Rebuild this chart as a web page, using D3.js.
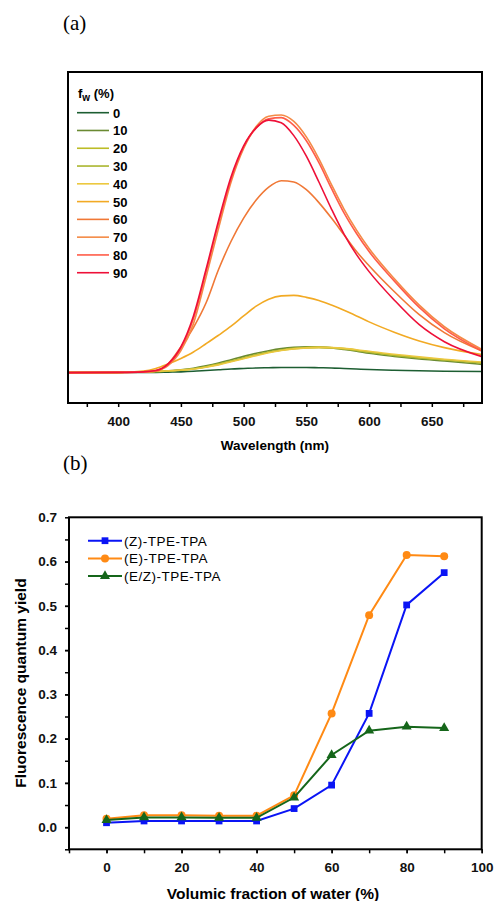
<!DOCTYPE html>
<html>
<head>
<meta charset="utf-8">
<script src="https://cdn.jsdelivr.net/npm/d3@7"></script>
<style>
  body { margin: 0; background: #fff; }
  svg { display: block; }
  text { font-family: "Liberation Sans", Arial, sans-serif; }
</style>
</head>
<body>
<script>
let width = 494;
let height = 901;

// panel (a): emission spectra, fw = water fraction
let wavelengths = [360, 400, 420, 430, 440, 450, 460, 470, 480, 490, 500, 510, 520, 530, 540, 550, 560, 570, 580, 590, 600, 620, 640, 660, 690];
let fwLabels = ['0', '10', '20', '30', '40', '50', '60', '70', '80', '90'];
let fwColors = ['#1d5e32', '#6a8a32', '#bcbc26', '#aab62e', '#ecc840', '#f2aa24', '#f07836', '#f48a46', '#ff5c48', '#ee1038'];
let spec0 = [0, 0.001, 0.001, 0.001, 0.002, 0.003, 0.005, 0.008, 0.011, 0.014, 0.016, 0.018, 0.019, 0.02, 0.02, 0.02, 0.019, 0.018, 0.016, 0.014, 0.012, 0.009, 0.007, 0.005, 0.004];
let spec10 = [0, 0.001, 0.002, 0.004, 0.007, 0.011, 0.017, 0.026, 0.037, 0.05, 0.063, 0.075, 0.085, 0.093, 0.098, 0.1, 0.099, 0.096, 0.09, 0.083, 0.075, 0.063, 0.053, 0.045, 0.032];
let spec20 = [0, 0.001, 0.002, 0.004, 0.006, 0.009, 0.014, 0.022, 0.032, 0.044, 0.056, 0.068, 0.079, 0.087, 0.093, 0.097, 0.098, 0.097, 0.093, 0.087, 0.08, 0.068, 0.058, 0.05, 0.038];
let spec30 = [0, 0.001, 0.002, 0.004, 0.006, 0.01, 0.015, 0.023, 0.033, 0.045, 0.057, 0.069, 0.08, 0.088, 0.094, 0.097, 0.098, 0.096, 0.092, 0.086, 0.079, 0.067, 0.057, 0.049, 0.037];
let spec40 = [0, 0.001, 0.003, 0.005, 0.007, 0.01, 0.014, 0.021, 0.03, 0.042, 0.054, 0.066, 0.077, 0.086, 0.092, 0.096, 0.098, 0.097, 0.094, 0.089, 0.083, 0.071, 0.061, 0.052, 0.041];
let spec50 = [0, 0.001, 0.006, 0.016, 0.034, 0.055, 0.08, 0.112, 0.145, 0.18, 0.22, 0.258, 0.285, 0.298, 0.3, 0.292, 0.28, 0.262, 0.242, 0.22, 0.197, 0.157, 0.123, 0.097, 0.07];
let spec60 = [0, 0.001, 0.002, 0.005, 0.035, 0.1, 0.175, 0.27, 0.4, 0.51, 0.6, 0.67, 0.72, 0.745, 0.74, 0.71, 0.66, 0.6, 0.535, 0.47, 0.415, 0.315, 0.225, 0.155, 0.084];
let spec70 = [0, 0.001, 0.003, 0.007, 0.028, 0.085, 0.19, 0.37, 0.56, 0.74, 0.87, 0.955, 0.995, 1.0, 0.975, 0.915, 0.83, 0.73, 0.635, 0.553, 0.482, 0.365, 0.262, 0.178, 0.09];
let spec80 = [0, 0.001, 0.003, 0.008, 0.032, 0.095, 0.21, 0.39, 0.58, 0.75, 0.875, 0.95, 0.985, 0.99, 0.96, 0.9, 0.815, 0.715, 0.62, 0.54, 0.47, 0.356, 0.253, 0.17, 0.084];
let spec90 = [0, 0.001, 0.003, 0.008, 0.035, 0.1, 0.22, 0.4, 0.59, 0.76, 0.88, 0.95, 0.98, 0.97, 0.92, 0.84, 0.74, 0.635, 0.538, 0.458, 0.392, 0.282, 0.186, 0.12, 0.062];
let spectra = [spec0, spec10, spec20, spec30, spec40, spec50, spec60, spec70, spec80, spec90];

// panel (b): quantum yield vs water fraction
let fractions = [0, 10, 20, 30, 40, 50, 60, 70, 80, 90];
let yieldZ = [0.01, 0.014, 0.014, 0.014, 0.014, 0.042, 0.095, 0.257, 0.502, 0.575];
let yieldE = [0.019, 0.027, 0.027, 0.026, 0.026, 0.072, 0.257, 0.479, 0.615, 0.612];
let yieldEZ = [0.016, 0.022, 0.022, 0.021, 0.021, 0.067, 0.163, 0.218, 0.227, 0.224];
let seriesNames = ['(Z)-TPE-TPA', '(E)-TPE-TPA', '(E/Z)-TPE-TPA'];
let seriesColors = ['#0a14f5', '#ff8a14', '#15661a'];
let seriesMarkers = ['square', 'circle', 'triangle'];

let svg = d3.select('body').append('svg')
  .attr('width', width)
  .attr('height', height);

let panelLabel = (txt, x, y) =>
  svg.append('text').text(txt)
    .attr('x', x).attr('y', y)
    .style('font-family', '"Liberation Serif", "DejaVu Serif", serif')
    .style('font-size', '21px');

panelLabel('(a)', 63, 30);
panelLabel('(b)', 63, 470);

// ---------- panel (a) ----------
let ax = d3.scaleLinear().domain([360, 690]).range([68, 482]);
let ay = d3.scaleLinear().domain([-0.118, 1.167]).range([403, 72]);

let topG = svg.append('g');

let specLine = d3.line()
  .x((d, i) => ax(wavelengths[i]))
  .y(d => ay(d))
  .curve(d3.curveMonotoneX);

topG.selectAll('.spec').data(spectra).enter().append('path')
  .attr('class', 'spec')
  .attr('d', specLine)
  .attr('fill', 'none')
  .attr('stroke', (d, i) => fwColors[i])
  .attr('stroke-width', 1.6);

let styleAxis = (g, size) => {
  g.select('.domain').remove();
  g.selectAll('line').attr('stroke', '#000').attr('stroke-width', 1.5);
  g.selectAll('text')
    .style('font-size', size)
    .style('font-weight', 'bold')
    .attr('fill', '#111');
}

topG.append('g')
  .attr('transform', 'translate(0,403)')
  .call(d3.axisBottom(ax).tickValues(d3.range(375, 690, 50)).tickSize(4).tickFormat(''))
  .call(g => styleAxis(g, '13.5px'));
topG.append('g')
  .attr('transform', 'translate(0,403)')
  .call(d3.axisBottom(ax).tickValues(d3.range(400, 651, 50)).tickSize(4).tickPadding(9))
  .call(g => styleAxis(g, '13.5px'));

topG.append('rect')
  .attr('x', 68).attr('y', 72)
  .attr('width', 414).attr('height', 331)
  .attr('fill', 'none').attr('stroke', '#000').attr('stroke-width', 2);

topG.append('text')
  .attr('x', ax(525)).attr('y', 450)
  .attr('text-anchor', 'middle')
  .style('font-size', '13.5px').style('font-weight', 'bold')
  .text('Wavelength (nm)');

// legend a
let legA = topG.append('g');
let fwTitle = legA.append('text')
  .attr('x', 78).attr('y', 98)
  .style('font-size', '13px').style('font-weight', 'bold');
fwTitle.append('tspan').text('f');
fwTitle.append('tspan').text('w').attr('dy', 3).style('font-size', '10px');
fwTitle.append('tspan').text(' (%)').attr('dy', -3);

let legRows = legA.selectAll('.leg-row').data(fwLabels).enter().append('g')
  .attr('class', 'leg-row')
  .attr('transform', (d, i) => `translate(0,${112.7 + 17.78 * i})`);
legRows.append('line')
  .attr('x1', 77).attr('x2', 109)
  .attr('stroke', (d, i) => fwColors[i])
  .attr('stroke-width', 1.6);
legRows.append('text')
  .attr('x', 113).attr('y', 5)
  .style('font-size', '13px').style('font-weight', 'bold')
  .text(d => d);

// ---------- panel (b) ----------
let bx = d3.scaleLinear().domain([-10, 100]).range([69, 481.7]);
let by = d3.scaleLinear().domain([-0.05, 0.7]).range([849.3, 517.3]);

let botG = svg.append('g');

botG.append('g')
  .attr('transform', 'translate(0,849.3)')
  .call(d3.axisBottom(bx).tickValues(d3.range(-10, 101, 10)).tickSize(4).tickFormat(''))
  .call(g => styleAxis(g, '13.5px'));
botG.append('g')
  .attr('transform', 'translate(0,849.3)')
  .call(d3.axisBottom(bx).tickValues(d3.range(0, 101, 20)).tickSize(4).tickPadding(9))
  .call(g => styleAxis(g, '13.5px'));

botG.append('g')
  .attr('transform', 'translate(69,0)')
  .call(d3.axisLeft(by).tickValues(d3.range(-0.05, 0.7, 0.05)).tickSize(4).tickFormat(''))
  .call(g => styleAxis(g, '13.5px'));
botG.append('g')
  .attr('transform', 'translate(69,0)')
  .call(d3.axisLeft(by).tickValues(d3.range(0, 0.71, 0.1)).tickSize(4).tickPadding(8).tickFormat(d3.format('.1f')))
  .call(g => styleAxis(g, '13.5px'));

botG.append('rect')
  .attr('x', 69).attr('y', 517.3)
  .attr('width', 412.7).attr('height', 332)
  .attr('fill', 'none').attr('stroke', '#000').attr('stroke-width', 2);

botG.append('text')
  .attr('x', 273).attr('y', 899)
  .attr('text-anchor', 'middle')
  .style('font-size', '15.5px').style('font-weight', 'bold')
  .text('Volumic fraction of water (%)');

botG.append('text')
  .attr('transform', 'translate(26,683) rotate(-90)')
  .attr('text-anchor', 'middle')
  .style('font-size', '15.5px').style('font-weight', 'bold')
  .text('Fluorescence quantum yield');

let yieldSeries = [yieldZ, yieldE, yieldEZ];
let yLine = d3.line().x((d, i) => bx(fractions[i])).y(d => by(d));

let symbolFor = (m) => {
  if (m === 'square') return d3.symbol().type(d3.symbolSquare).size(46)();
  if (m === 'circle') return d3.symbol().type(d3.symbolCircle).size(50)();
  return d3.symbol().type(d3.symbolTriangle).size(44)();
}

yieldSeries.forEach((vals, s) => {
  let g = botG.append('g');
  g.append('path')
    .attr('d', yLine(vals))
    .attr('fill', 'none')
    .attr('stroke', seriesColors[s])
    .attr('stroke-width', 2);
  g.selectAll('.mk').data(vals).enter().append('path')
    .attr('class', 'mk')
    .attr('d', symbolFor(seriesMarkers[s]))
    .attr('transform', (d, i) => `translate(${bx(fractions[i])},${by(d)})`)
    .attr('fill', seriesColors[s]);
});

// legend b
let legB = botG.selectAll('.legb').data(seriesNames).enter().append('g')
  .attr('class', 'legb')
  .attr('transform', (d, i) => `translate(0,${540.7 + 17.7 * i})`);
legB.append('line')
  .attr('x1', 88).attr('x2', 122)
  .attr('stroke', (d, i) => seriesColors[i])
  .attr('stroke-width', 2);
legB.append('path')
  .attr('d', (d, i) => symbolFor(seriesMarkers[i]))
  .attr('transform', 'translate(105,0)')
  .attr('fill', (d, i) => seriesColors[i]);
legB.append('text')
  .attr('x', 124).attr('y', 5)
  .style('font-size', '13.5px')
  .style('letter-spacing', '0.5px')
  .text(d => d);
</script>
</body>
</html>
